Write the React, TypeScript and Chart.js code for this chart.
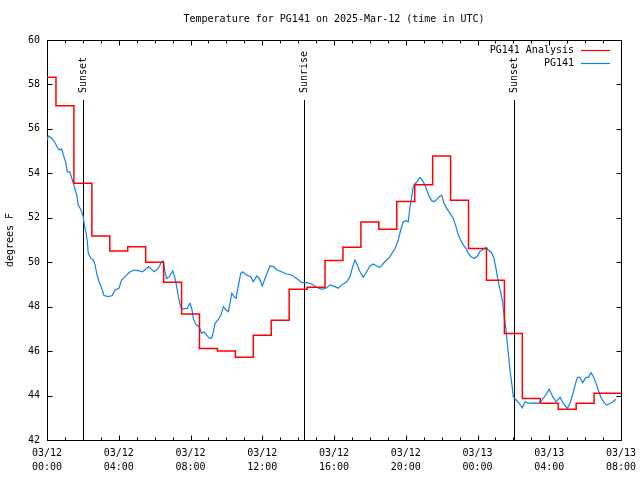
import React, { useEffect, useRef } from 'react';
import { Chart, registerables } from 'chart.js';

Chart.register(...registerables);

// ---- Data (hours since 03/12 00:00 UTC) ----
const analysisHours = [0, 1, 2, 3, 4, 5, 6, 7, 8, 9, 10, 11, 12, 13, 14, 15, 16, 17, 18, 19, 20, 21, 22, 23, 24, 25, 26, 27, 28, 29, 30, 31, 32];
const analysisTemps = [58.32, 57.04, 53.55, 51.18, 50.5, 50.7, 50.0, 49.1, 47.67, 46.12, 46.0, 45.72, 46.71, 47.39, 48.78, 48.87, 50.08, 50.67, 51.81, 51.48, 52.73, 53.49, 54.78, 52.79, 50.62, 49.19, 46.79, 43.87, 43.65, 43.38, 43.65, 44.1, 44.1];

const obsHours = [
  0.0, 0.07, 0.26, 0.41, 0.6, 0.72, 0.82, 0.91, 1.04, 1.13, 1.28, 1.38, 1.52, 1.66, 1.74, 1.9, 2.02, 2.08, 2.17, 2.25,
  2.3, 2.45, 2.58, 2.68, 2.77, 2.9, 3.05, 3.18, 3.42, 3.64, 3.79, 4.01, 4.16, 4.35, 4.63, 4.87, 5.09, 5.31, 5.46, 5.65,
  5.8, 5.98, 6.2, 6.39, 6.48, 6.58, 6.67, 6.82, 7.01, 7.14, 7.23, 7.32, 7.45, 7.57, 7.69, 7.82, 7.97, 8.07, 8.16, 8.31,
  8.49, 8.62, 8.75, 8.9, 9.05, 9.18, 9.27, 9.37, 9.55, 9.7, 9.83, 9.98, 10.11, 10.2, 10.3, 10.43, 10.54, 10.66, 10.8, 10.91,
  11.13, 11.36, 11.5, 11.69, 11.84, 12.0, 12.15, 12.3, 12.43, 12.62, 12.81, 13.08, 13.36, 13.64, 13.92, 14.2, 14.48, 14.76, 15.04, 15.31,
  15.55, 15.78, 16.06, 16.24, 16.43, 16.71, 16.89, 17.04, 17.17, 17.3, 17.45, 17.63, 17.82, 18.01, 18.19, 18.38, 18.56, 18.84, 19.12, 19.4,
  19.58, 19.72, 19.86, 20.01, 20.14, 20.24, 20.33, 20.42, 20.52, 20.61, 20.7, 20.79, 20.94, 21.07, 21.17, 21.31, 21.45, 21.59, 21.73, 21.87,
  22.0, 22.13, 22.28, 22.47, 22.65, 22.8, 22.93, 23.06, 23.21, 23.36, 23.49, 23.64, 23.82, 23.99, 24.14, 24.33, 24.48, 24.6, 24.79, 24.92,
  25.03, 25.16, 25.29, 25.4, 25.49, 25.59, 25.66, 25.74, 25.81, 25.91, 26.0, 26.15, 26.33, 26.5, 26.65, 26.83, 27.11, 27.39, 27.58, 27.76,
  28.0, 28.19, 28.38, 28.6, 28.78, 29.01, 29.16, 29.31, 29.44, 29.57, 29.71, 29.86, 30.05, 30.18, 30.33, 30.46, 30.61, 30.73, 30.87, 31.05,
  31.2, 31.41, 31.55, 31.72,
];
const obsTemps = [
  55.5, 55.68, 55.58, 55.43, 55.13, 55.05, 55.1, 54.83, 54.52, 54.07, 54.07, 53.78, 53.4, 53.02, 52.57, 52.35, 52.05, 51.67, 51.37, 50.92,
  50.4, 50.17, 50.1, 49.88, 49.5, 49.12, 48.83, 48.5, 48.45, 48.5, 48.75, 48.83, 49.2, 49.35, 49.57, 49.65, 49.62, 49.57, 49.65, 49.8,
  49.7, 49.57, 49.72, 50.02, 50.05, 49.57, 49.27, 49.35, 49.62, 49.27, 48.9, 48.45, 48.0, 47.88, 47.92, 47.92, 48.15, 47.92, 47.47, 47.18,
  47.1, 46.8, 46.87, 46.72, 46.58, 46.58, 46.87, 47.25, 47.43, 47.62, 48.0, 47.85, 47.77, 48.15, 48.6, 48.45, 48.37, 48.9, 49.5, 49.57,
  49.42, 49.35, 49.12, 49.38, 49.27, 48.93, 49.27, 49.57, 49.83, 49.8, 49.65, 49.57, 49.47, 49.42, 49.27, 49.08, 49.08, 49.02, 48.87, 48.78,
  48.83, 48.98, 48.9, 48.83, 48.98, 49.12, 49.35, 49.8, 50.1, 49.88, 49.57, 49.32, 49.57, 49.83, 49.92, 49.83, 49.77, 50.02, 50.25, 50.62,
  51.0, 51.45, 51.82, 51.87, 51.82, 52.5, 52.95, 53.4, 53.55, 53.58, 53.73, 53.82, 53.67, 53.47, 53.25, 52.95, 52.77, 52.72, 52.83, 52.95,
  53.02, 52.65, 52.42, 52.2, 51.97, 51.6, 51.22, 51.0, 50.77, 50.62, 50.4, 50.25, 50.17, 50.27, 50.5, 50.58, 50.67, 50.55, 50.43, 50.17,
  49.72, 49.12, 48.67, 48.22, 47.55, 46.95, 46.35, 45.75, 45.15, 44.55, 43.95, 43.8, 43.65, 43.45, 43.72, 43.65, 43.67, 43.65, 43.77, 43.98,
  44.28, 43.95, 43.72, 43.92, 43.65, 43.42, 43.65, 44.07, 44.47, 44.82, 44.82, 44.58, 44.82, 44.82, 45.03, 44.85, 44.55, 44.25, 43.95, 43.68,
  43.57, 43.65, 43.72, 43.83,
];

const yTickValues = [42, 44, 46, 48, 50, 52, 54, 56, 58, 60];
const xMajorHours = [0, 4, 8, 12, 16, 20, 24, 28, 32];
const xTickDates = ['03/12', '03/12', '03/12', '03/12', '03/12', '03/12', '03/13', '03/13', '03/13'];
const xTickTimes = ['00:00', '04:00', '08:00', '12:00', '16:00', '20:00', '00:00', '04:00', '08:00'];

const sunLabels = ['Sunset', 'Sunrise', 'Sunset'];
const sunHours = [2.02, 14.33, 26.03];

const seriesNames = ['PG141 Analysis', 'PG141'];
const seriesColors = ['#ff0000', '#1080f0'];

const titleText = 'Temperature for PG141 on 2025-Mar-12 (time in UTC)';
const yAxisTitle = 'degrees F';

const FONT = '10px "DejaVu Sans Mono", "Liberation Mono", monospace';

const decorPlugin = {
  id: 'gnuplotDecor',
  beforeDatasetsDraw(chart: any) {
    const ctx = chart.ctx;
    const a = chart.chartArea;
    const xs = chart.scales.x;
    const ys = chart.scales.y;
    const L = Math.round(a.left) + 0.5;
    const R = Math.round(a.right) + 0.5;
    const T = Math.round(a.top) + 0.5;
    const B = Math.round(a.bottom) + 0.5;
    ctx.save();
    ctx.strokeStyle = '#000';
    ctx.lineWidth = 1;

    // sunrise / sunset lines
    ctx.beginPath();
    sunHours.forEach((h) => {
      const px = Math.round(xs.getPixelForValue(h)) + 0.5;
      ctx.moveTo(px, a.top + 60);
      ctx.lineTo(px, a.bottom);
    });
    ctx.stroke();

    // border
    ctx.strokeRect(L, T, R - L, B - T);

    // ticks
    ctx.beginPath();
    yTickValues.forEach((v) => {
      const py = Math.round(ys.getPixelForValue(v)) + 0.5;
      ctx.moveTo(L, py); ctx.lineTo(L + 5, py);
      ctx.moveTo(R, py); ctx.lineTo(R - 5, py);
    });
    for (let h = 0; h <= 32; h += 1) {
      const px = Math.round(xs.getPixelForValue(h)) + 0.5;
      const len = h % 4 === 0 ? 5 : 3;
      ctx.moveTo(px, B); ctx.lineTo(px, B - len);
      ctx.moveTo(px, T); ctx.lineTo(px, T + len);
    }
    ctx.stroke();

    ctx.fillStyle = '#000';
    ctx.font = FONT;

    // y tick labels
    ctx.textAlign = 'right';
    ctx.textBaseline = 'middle';
    yTickValues.forEach((v) => {
      ctx.fillText(String(v), a.left - 7, ys.getPixelForValue(v));
    });

    // x tick labels
    ctx.textAlign = 'center';
    xMajorHours.forEach((h, i) => {
      const px = xs.getPixelForValue(h);
      ctx.fillText(xTickDates[i], px, a.bottom + 13);
      ctx.fillText(xTickTimes[i], px, a.bottom + 27);
    });

    // title
    ctx.fillText(titleText, (a.left + a.right) / 2, 19);

    // y axis title
    ctx.save();
    ctx.translate(10, (a.top + a.bottom) / 2);
    ctx.rotate(-Math.PI / 2);
    ctx.fillText(yAxisTitle, 0, 0);
    ctx.restore();

    // sun labels
    sunHours.forEach((h, i) => {
      const px = xs.getPixelForValue(h);
      ctx.save();
      ctx.translate(px, a.top + 53);
      ctx.rotate(-Math.PI / 2);
      ctx.textAlign = 'left';
      ctx.textBaseline = 'middle';
      ctx.fillText(sunLabels[i], 0, 0);
      ctx.restore();
    });

    // legend
    seriesNames.forEach((name, i) => {
      const py = a.top + 10 + i * 13;
      ctx.textAlign = 'right';
      ctx.fillStyle = '#000';
      ctx.fillText(name, a.right - 47, py);
      ctx.strokeStyle = seriesColors[i];
      ctx.lineWidth = 1.2;
      ctx.beginPath();
      ctx.moveTo(a.right - 40, Math.round(py) + 0.5);
      ctx.lineTo(a.right - 11, Math.round(py) + 0.5);
      ctx.stroke();
    });
    ctx.restore();
  },
};

export default function App() {
  const canvasRef = useRef<HTMLCanvasElement | null>(null);

  useEffect(() => {
    document.body.style.margin = '0';
    const canvas = canvasRef.current;
    if (!canvas) return;
    const chart = new Chart(canvas, {
      type: 'line',
      data: {
        datasets: [
          {
            label: seriesNames[0],
            data: analysisHours.map((h, i) => ({ x: h, y: analysisTemps[i] })),
            borderColor: seriesColors[0],
            borderWidth: 1.5,
            pointRadius: 0,
            stepped: 'middle',
            fill: false,
          },
          {
            label: seriesNames[1],
            data: obsHours.map((h, i) => ({ x: h, y: obsTemps[i] })),
            borderColor: seriesColors[1],
            borderWidth: 1.2,
            pointRadius: 0,
            tension: 0,
            fill: false,
          },
        ],
      },
      options: {
        responsive: false,
        animation: false,
        devicePixelRatio: 1,
        layout: { padding: { left: 47, right: 19, top: 40, bottom: 40 } },
        plugins: {
          legend: { display: false },
          title: { display: false },
          tooltip: { enabled: false },
        },
        scales: {
          x: { type: 'linear', min: 0, max: 32, display: false },
          y: { type: 'linear', min: 42, max: 60, display: false },
        },
      },
      plugins: [decorPlugin],
    });
    return () => chart.destroy();
  }, []);

  return (
    <div style={{ width: 640, height: 480, background: '#fff' }}>
      <canvas ref={canvasRef} width={640} height={480} style={{ display: 'block' }} />
    </div>
  );
}
